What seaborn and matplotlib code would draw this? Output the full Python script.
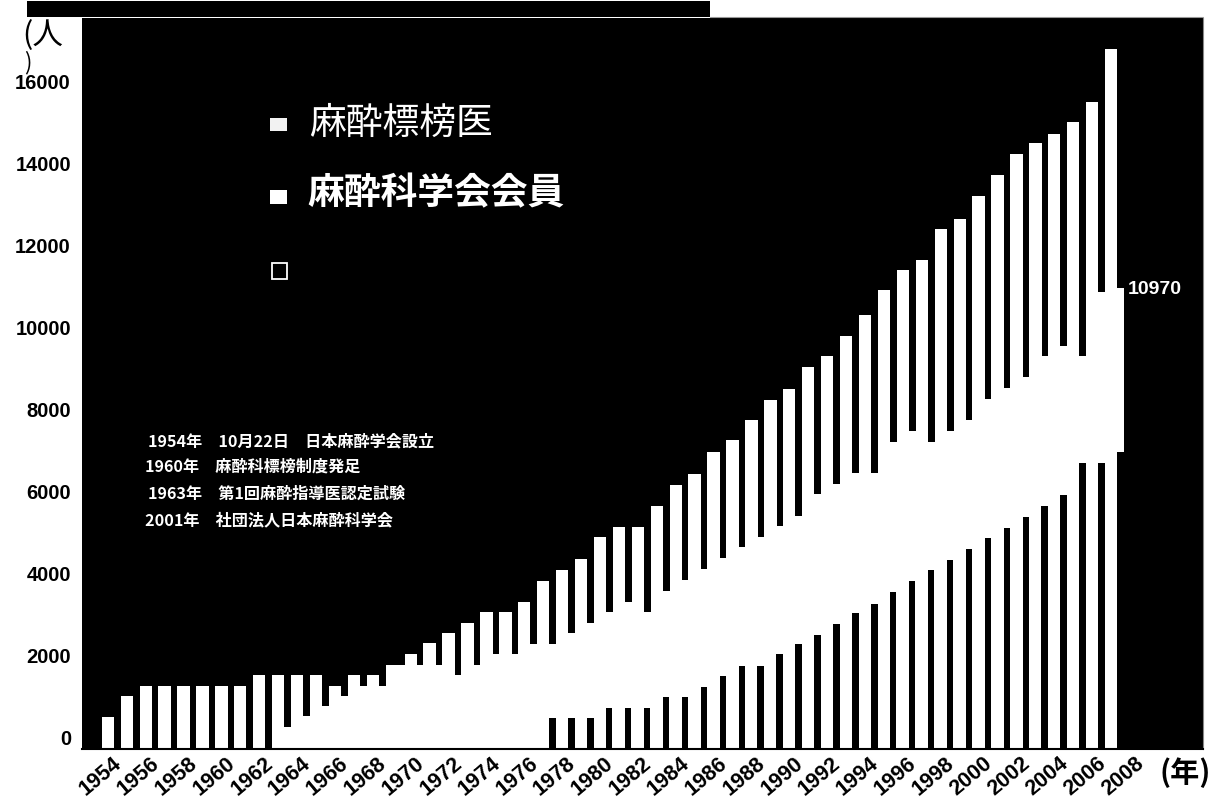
import matplotlib
matplotlib.use("Agg")
import matplotlib.pyplot as plt
from matplotlib.patches import Rectangle
import seaborn as sns
import numpy as np

# white bars: 会員数 1954-2007
member_years = list(range(1954, 2008))
members = [520, 1020, 1270, 1270, 1270, 1270, 1270, 1270, 1530, 1530,
           1530, 1530, 1270, 1530, 1530, 1780, 2040, 2310, 2560, 2800,
           3070, 3070, 3310, 3820, 4090, 4360, 4890, 5140, 5140, 5650,
           6160, 6430, 6960, 7260, 7740, 8230, 8500, 9030, 9300, 9790,
           10300, 10900, 11400, 11650, 12400, 12650, 13200, 13720, 14230, 14480,
           14720, 15000, 15500, 16790]

# narrow white bars (fill the gaps) 1954-2008
hyobo_years = list(range(1954, 2009))
hyobo = [0, 0, 0, 0, 0, 0, 0, 0, 0, 0,
         270, 530, 780, 1020, 1270, 1270, 1780, 1780, 1780, 1530,
         1780, 2040, 2040, 2280, 2280, 2560, 2800, 3080, 3320, 3080,
         3590, 3850, 4110, 4380, 4650, 4900, 5160, 5410, 5940, 6180,
         6450, 6450, 7200, 7480, 7200, 7480, 7740, 8250, 8520, 8790,
         9300, 9550, 9300, 10860, 10970]

# narrow black bars 1978-2008
shido_years = list(range(1978, 2009))
shido = [490, 490, 490, 740, 740, 740, 1000, 1000, 1250, 1510,
         1750, 1750, 2040, 2280, 2510, 2780, 3040, 3270, 3550, 3820,
         4090, 4340, 4600, 4870, 5110, 5380, 5650, 5920, 6700, 6700,
         6960]

tick_years = list(range(1954, 2009, 2))
legend_labels = ["麻酔標榜医", "麻酔科学会会員", ""]
notes = ["1954年　10月22日　日本麻酔学会設立",
         "1960年　麻酔科標榜制度発足",
         "1963年　第1回麻酔指導医認定試験",
         "2001年　社団法人日本麻酔科学会"]

sns.set_theme(style="white")
plt.rcParams["font.family"] = ["Noto Sans CJK JP", "DejaVu Sans"]
num_font = ["Liberation Sans Narrow", "Liberation Sans", "DejaVu Sans"]

W, H = 1223, 809
def fp(x, y):
    return x / W, 1 - y / H

fig = plt.figure(figsize=(W / 100, H / 100), dpi=100, facecolor="white")
ax = fig.add_axes([82 / W, 1 - 749 / H, (1203 - 82) / W, (749 - 18) / H])
ax.set_facecolor("black")

sns.barplot(x=np.array(hyobo_years) - 0.325, y=hyobo, native_scale=True, width=0.35,
            color="white", saturation=1, errorbar=None, linewidth=0, ax=ax)
sns.barplot(x=np.array(member_years) + 0.175, y=members, native_scale=True, width=0.65,
            color="white", saturation=1, errorbar=None, linewidth=0, ax=ax)
sns.barplot(x=np.array(shido_years) - 0.335, y=shido, native_scale=True, width=0.34,
            color="black", saturation=1, errorbar=None, linewidth=0, ax=ax)

ymin = -268
ax.set_ylim(ymin, 17535)
ax.set_xlim(1952.81, 2012.03)
# bars run down to the frame edge as in the scan
for p in ax.patches:
    h = p.get_height()
    if h > 0:
        p.set_y(ymin)
        p.set_height(h - ymin)

ax.set_yticks(range(0, 16001, 2000))
ax.set_yticklabels([str(v) for v in range(0, 16001, 2000)], fontfamily=num_font,
                   fontweight="bold", fontsize=14.5, color="black")
ax.tick_params(axis="y", length=0, pad=8)
ax.set_xticks(np.array(tick_years) + 0.4)
ax.set_xticklabels([str(y) for y in tick_years], fontfamily=num_font, fontweight="bold",
                   fontsize=15.5, color="black", rotation=40, ha="right", va="top",
                   rotation_mode="anchor")
ax.tick_params(axis="x", length=0, pad=3)
ax.set_xlabel("")
ax.set_ylabel("")
ax.grid(False)
for s in ["left", "top"]:
    ax.spines[s].set_visible(False)
ax.spines["bottom"].set_color("black")
ax.spines["bottom"].set_linewidth(1.5)
ax.spines["right"].set_color("#888888")
ax.spines["right"].set_linewidth(0.8)

# scan strip at the top
fig.add_artist(Rectangle(fp(27, 17), (710 - 27) / W, 16 / H, transform=fig.transFigure,
                         color="black", lw=0))
fig.add_artist(plt.Line2D([710 / W, 1203 / W], [1 - 17 / H, 1 - 17 / H],
                          transform=fig.transFigure, color="#999999", lw=0.8))

fig.text(*fp(22, 36), "(人", fontsize=22, va="center", ha="left", color="black")
fig.text(*fp(24, 63), ")", fontsize=16, va="center", ha="left", color="black")
fig.text(*fp(1160, 773), "(年)", fontsize=21, fontweight="bold", va="center",
         ha="left", color="black")

# legend
fig.add_artist(Rectangle(fp(270, 131), 17 / W, 13 / H, transform=fig.transFigure,
                         facecolor="#f2f2f2", lw=0))
fig.add_artist(Rectangle(fp(270, 204), 17 / W, 14 / H, transform=fig.transFigure,
                         facecolor="white", lw=0))
fig.add_artist(Rectangle(fp(272, 279), 15 / W, 16 / H, transform=fig.transFigure,
                         facecolor="none", edgecolor="white", lw=1.3))
fig.text(*fp(309, 123), legend_labels[0], fontsize=26.5, color="white",
         va="center", ha="left")
fig.text(*fp(307, 194), legend_labels[1], fontsize=26.5, fontweight="bold",
         color="white", va="center", ha="left")
fig.text(*fp(310, 270), legend_labels[2], fontsize=26.5, color="white",
         va="center", ha="left")

for (x, y), t in zip([(148, 441), (145, 467), (148, 494), (145, 520)], notes):
    fig.text(*fp(x, y), t, fontsize=11.6, fontweight="bold", color="white",
             va="center", ha="left")

fig.text(*fp(1128, 289), "10970", fontfamily=num_font, fontweight="bold",
         fontsize=14, color="white", va="center", ha="left")

fig.savefig("out.png", dpi=100, facecolor="white")
